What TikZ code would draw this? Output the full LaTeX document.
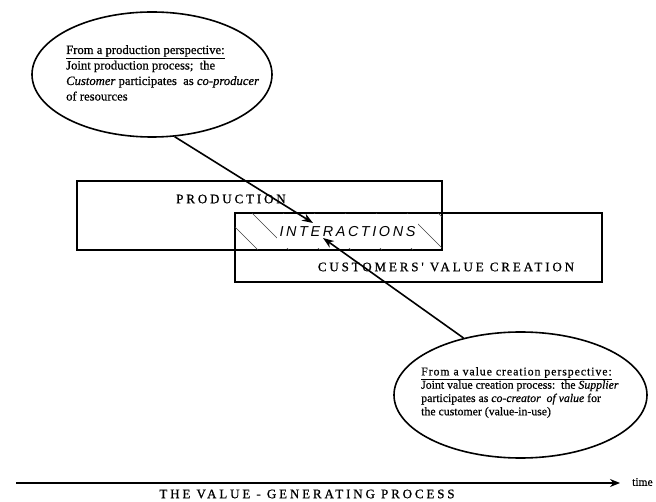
\documentclass[tikz,border=0pt]{standalone}
\usepackage{fontspec}
\setmainfont[FakeBold=0.6]{Liberation Serif}
\newfontfamily\capsfont[LetterSpace=22,FakeBold=0.8]{Liberation Serif}
\newfontfamily\interfont[LetterSpace=18]{Liberation Sans}
\usetikzlibrary{shapes.geometric,arrows.meta}
\tikzset{
  bubble/.style={draw, ellipse, line width=1.6pt, inner sep=0pt},
  box/.style={draw, rectangle, line width=1.5pt, inner sep=0pt},
  capslabel/.style={inner sep=0pt, font=\capsfont\fontsize{13}{15}\selectfont},
  bubbletext/.style={inner sep=0pt, anchor=north west, align=left},
  hatch/.style={line width=0.6pt, black!75},
  link/.style={line width=1.6pt, -{Stealth[length=11pt,width=8pt]}},
}
\begin{document}
\begin{tikzpicture}[x=1pt,y=-1pt]
\useasboundingbox (0,0) rectangle (656,502);
% ellipses
\node[bubble, minimum width=240pt, minimum height=125pt] (e1) at (152,74.5) {};
\node[bubble, minimum width=253pt, minimum height=126pt] (e2) at (520.5,395) {};
\node[bubbletext, font=\fontsize{12.65}{15.5}\selectfont] (t1) at (66,45)
  {\underline{From a production perspective:}\\
   Joint production process;\ \ the\\
   \textit{Customer} participates\ \ as \textit{co-producer}\\
   of resources};
\node[bubbletext, font=\fontsize{11.8}{13.3}\selectfont] (t2) at (421,367)
  {{\addfontfeature{LetterSpace=8}\underline{From a value creation perspective:}}\\
   Joint value creation process:\ \ the \textit{Supplier}\\
   participates as \textit{co-creator\ \ of value} for\\
   the customer (value-in-use)};
% boxes
\node[box, minimum width=365pt, minimum height=69pt] (prod) at (259.5,215.5) {};
\node[box, minimum width=367pt, minimum height=69pt] (cust) at (418.5,247.5) {};
% hatching in the overlap
\begin{scope}
  \clip (235,213) rectangle (442,250);
  \foreach \x in {190,221,...,470} \draw[hatch] (\x,213) -- ++(37,37);
\end{scope}
% labels
\node[capslabel] (lprod) at (231,199) {PRODUCTION};
\node[fill=white, inner xsep=3pt, inner ysep=0pt, minimum height=34pt,
      font=\interfont\itshape\fontsize{14.4}{16}\selectfont] (inter) at (347.5,231.5) {INTERACTIONS};
\node[capslabel] (lcust) at (446,267) {CUSTOMERS' VALUE CREATION};
% arrow targets
\coordinate (a1) at (313,223);
\coordinate (a2) at (323,238);
\draw[link] (e1.-70) -- (a1);
\draw[link] (e2.135) -- (a2);
% time axis
\coordinate (tstart) at (16,483);
\coordinate (tend) at (620,483);
\draw[line width=1.5pt, -{Stealth[length=10pt,width=8pt]}] (tstart) -- (tend);
\node[anchor=west, inner sep=0pt, font=\fontsize{11.5}{13}\selectfont] (time) at (632,482) {time};
\node[capslabel] (lproc) at (307,494) {THE VALUE - GENERATING PROCESS};
\end{tikzpicture}
\end{document}
